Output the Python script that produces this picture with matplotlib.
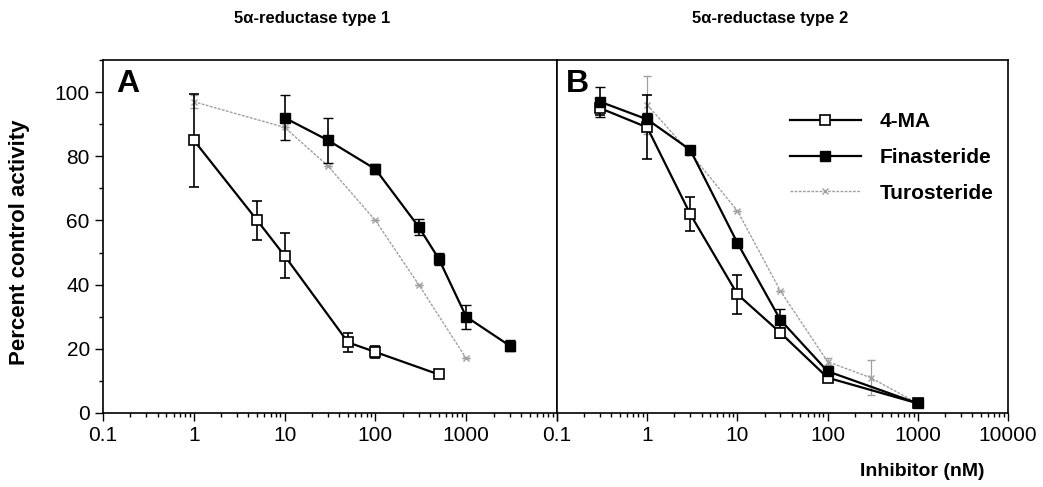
import numpy as np
import matplotlib
matplotlib.use('Agg')
import matplotlib.pyplot as plt
from matplotlib.lines import Line2D
from matplotlib.ticker import LogLocator, NullFormatter, FixedLocator, FixedFormatter, MultipleLocator

plt.rcParams['font.family'] = ['Liberation Sans', 'DejaVu Sans']

# ---- data ----
# panel A : 5a-reductase type 1
a_ma_x = [1, 5, 10, 50, 100, 500]
a_ma_y = [85, 60, 49, 22, 19, 12]
a_ma_e = [14.5, 6, 7, 3, 2, 1]

a_fin_x = [10, 30, 100, 300, 500, 1000, 3000]
a_fin_y = [92, 85, 76, 58, 48, 30, 21]
a_fin_e = [7, 7, 1.5, 2.5, 1.8, 3.7, 1.7]

a_tur_x = [1, 10, 30, 100, 300, 1000]
a_tur_y = [97, 89, 77, 60, 40, 17]
a_tur_e = [2, 0, 0, 0, 0, 0]

# panel B : 5a-reductase type 2
b_ma_x = [0.3, 1, 3, 10, 30, 100, 1000]
b_ma_y = [95, 89, 62, 37, 25, 11, 3]
b_ma_e = [2, 10, 5.3, 6, 1.5, 1, 0.5]

b_fin_x = [0.3, 1, 3, 10, 30, 100, 1000]
b_fin_y = [97, 91.5, 82, 53, 29, 13, 3]
b_fin_e = [4.7, 2, 1, 1, 3.3, 1, 0.5]

b_tur_x = [1, 3, 10, 30, 100, 300, 1000]
b_tur_y = [96, 81, 63, 38, 16, 11, 3]
b_tur_e = [9, 0, 0, 0, 1, 5.5, 0.5]

labels = ['4-MA', 'Finasteride', 'Turosteride']
a_xticks = [0.1, 1, 10, 100, 1000]
b_xticks = [0.1, 1, 10, 100, 1000, 10000]
y_ticks = [0, 20, 40, 60, 80, 100]

W, H = 1043, 487
fig = plt.figure(figsize=(W / 100, H / 100), dpi=100)

left, mid, right = 103 / W, 557 / W, 1008 / W
bot, top = 1 - 413 / H, 1 - 60 / H
axA = fig.add_axes([left, bot, mid - left, top - bot])
axB = fig.add_axes([mid, bot, right - mid, top - bot])

gray = '#a0a0a0'
sty_ma = dict(color='black', lw=1.6, marker='s', ms=6.5, mfc='white', mec='black', mew=1.2)
sty_fin = dict(color='black', lw=1.6, marker='s', ms=6.5, mfc='black', mec='black')
sty_tur = dict(color=gray, lw=1.0, ls=(0, (2, 1)), marker='x', ms=5, mew=1.0)


def draw(ax, ma, fin, tur):
    ax.errorbar(ma[0], ma[1], yerr=ma[2], capsize=3.5, elinewidth=1.2, zorder=3, **sty_ma)
    ax.errorbar(fin[0], fin[1], yerr=fin[2], capsize=3.5, elinewidth=1.2, zorder=3, **sty_fin)
    ax.errorbar(tur[0], tur[1], yerr=tur[2], capsize=3, elinewidth=0.9, zorder=2, **sty_tur)


draw(axA, (a_ma_x, a_ma_y, a_ma_e), (a_fin_x, a_fin_y, a_fin_e), (a_tur_x, a_tur_y, a_tur_e))
draw(axB, (b_ma_x, b_ma_y, b_ma_e), (b_fin_x, b_fin_y, b_fin_e), (b_tur_x, b_tur_y, b_tur_e))

for ax in (axA, axB):
    ax.set_xscale('log')
    ax.set_xlim(0.1, 10000)
    ax.set_ylim(0, 110)
    ax.xaxis.set_minor_locator(LogLocator(base=10, subs=np.arange(2, 10)))
    ax.xaxis.set_minor_formatter(NullFormatter())
    ax.tick_params(axis='both', which='major', direction='out', length=6, width=1, labelsize=15)
    ax.tick_params(axis='both', which='minor', direction='out', length=3, width=1)
    for s in ax.spines.values():
        s.set_linewidth(1.2)

axA.xaxis.set_major_locator(FixedLocator(b_xticks))
axA.xaxis.set_major_formatter(FixedFormatter([str(t) for t in a_xticks] + ['']))
axB.xaxis.set_major_locator(FixedLocator(b_xticks))
axB.xaxis.set_major_formatter(FixedFormatter([str(t) for t in b_xticks]))

axA.set_yticks(y_ticks)
axA.yaxis.set_minor_locator(MultipleLocator(10))
axB.set_yticks([])
axB.yaxis.set_minor_locator(FixedLocator([]))

axA.text(0.03, 0.975, 'A', transform=axA.transAxes, fontsize=23, fontweight='bold', va='top')
axB.text(0.02, 0.975, 'B', transform=axB.transAxes, fontsize=23, fontweight='bold', va='top')

handles = [Line2D([], [], **sty_ma), Line2D([], [], **sty_fin), Line2D([], [], **sty_tur)]
axB.legend(handles, labels, frameon=False, loc='upper left', bbox_to_anchor=(0.475, 0.905),
           handlelength=3.4, handletextpad=0.9, labelspacing=0.8,
           prop={'weight': 'bold', 'size': 15})

fig.text(312 / W, 1 - 18 / H, '5\u03b1-reductase type 1', ha='center', va='center',
         fontsize=12, fontweight='bold')
fig.text(770 / W, 1 - 18 / H, '5\u03b1-reductase type 2', ha='center', va='center',
         fontsize=12, fontweight='bold')
fig.text(20 / W, 1 - 242 / H, 'Percent control activity', rotation=90, ha='center',
         va='center', fontsize=16, fontweight='bold')
fig.text(922 / W, 1 - 472 / H, 'Inhibitor (nM)', ha='center', va='center',
         fontsize=14, fontweight='bold')

fig.savefig('out.png', dpi=100)
